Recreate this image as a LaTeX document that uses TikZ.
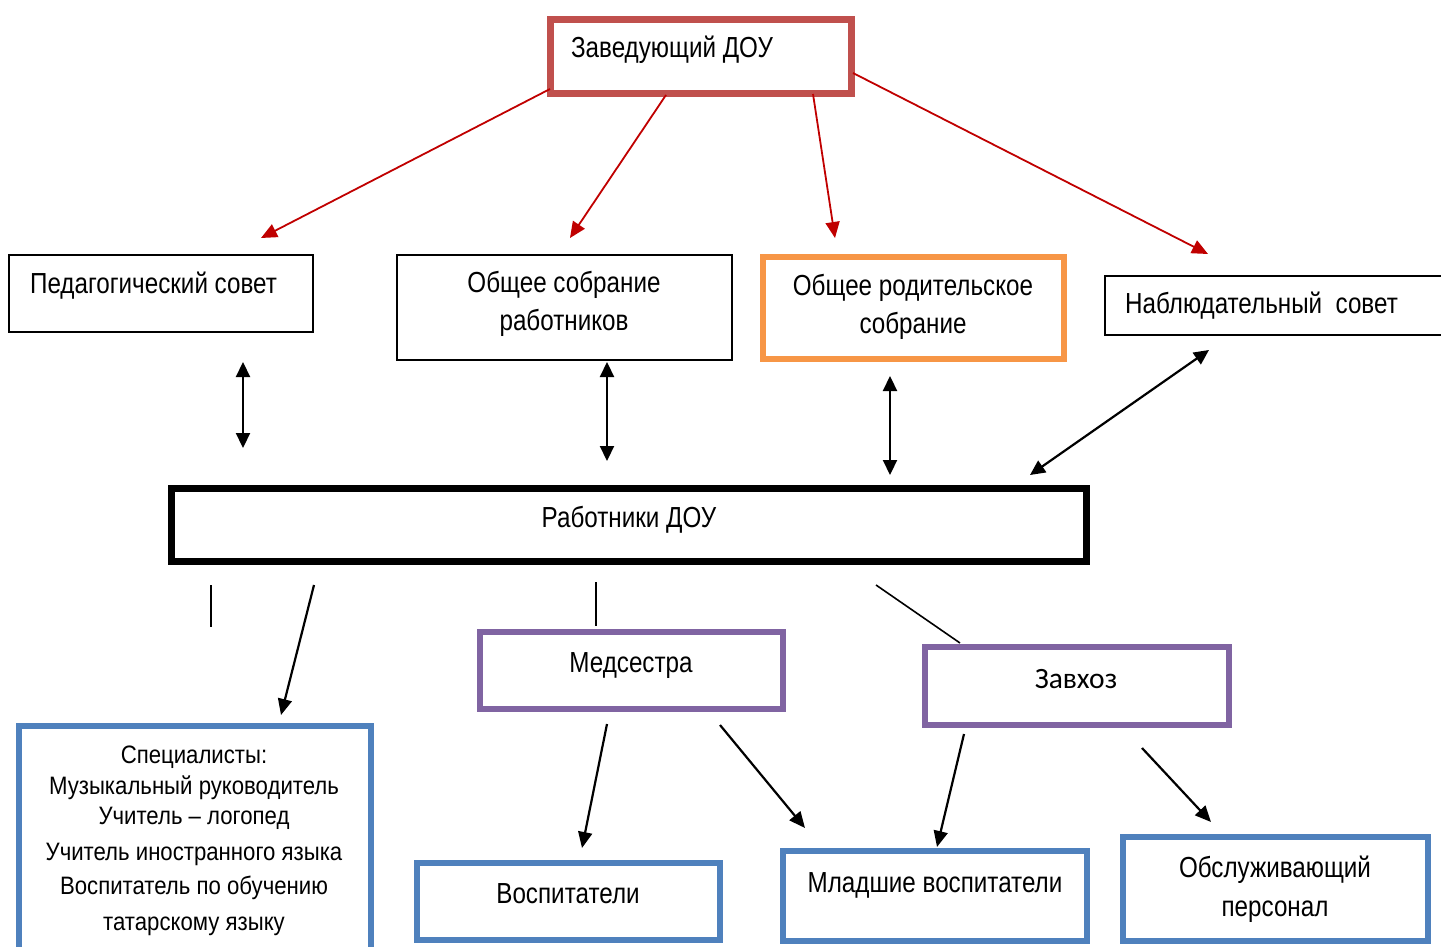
\documentclass[tikz,border=0pt]{standalone}
\usepackage{fontspec}
\setmainfont{Liberation Sans}[FakeStretch=0.835]
\newfontfamily\specfont{Liberation Sans}[FakeStretch=0.88]
\newfontfamily\calib{Carlito}
\usetikzlibrary{arrows.meta}
\definecolor{zavred}{HTML}{C0504D}
\definecolor{arrred}{HTML}{C00000}
\definecolor{orng}{HTML}{F79646}
\definecolor{purp}{HTML}{8064A2}
\definecolor{blu}{HTML}{4F81BD}
\tikzset{
  box/.style={draw, rectangle, inner sep=0pt},
  thinbox/.style={box, draw=black, line width=2pt},
  thickbox/.style={box, line width=6.5pt},
  colbox/.style={box, line width=5.5pt},
  txt/.style={inner sep=0pt, anchor=base, font=\fontsize{29}{34}\selectfont},
  spectxt/.style={txt, font=\specfont\fontsize{25.2}{30}\selectfont},
  redarr/.style={draw=arrred, line width=1.8pt, -{Triangle[length=16pt,width=14pt]}, arrred},
  blkarr/.style={draw=black, line width=2.2pt, -{Triangle[length=16pt,width=14pt]}},
  dblarr/.style={draw=black, line width=2.2pt, {Triangle[length=15pt,width=14pt]}-{Triangle[length=15pt,width=14pt]}},
  plainln/.style={draw=black, line width=1.6pt}
}
\begin{document}
\begin{tikzpicture}[x=1pt,y=-1pt]
\useasboundingbox (0,0) rectangle (1441,947);
% boxes
\node[thickbox, draw=zavred, minimum width=301pt, minimum height=74pt] (zav) at (701,56.5) {};
\node[thinbox, minimum width=304pt, minimum height=77pt] (ped) at (161,293.5) {};
\node[thinbox, minimum width=335pt, minimum height=105pt] (obs) at (564.5,307.5) {};
\node[colbox, draw=orng, minimum width=301pt, minimum height=102pt] (rod) at (913.5,308) {};
\node[thinbox, minimum width=355pt, minimum height=59pt] (nab) at (1282.5,305.5) {};
\node[thickbox, draw=black, minimum width=915pt, minimum height=73pt] (rab) at (629,525) {};
\node[colbox, draw=purp, minimum width=303pt, minimum height=77pt] (med) at (631.5,670.5) {};
\node[colbox, draw=purp, minimum width=304pt, minimum height=78pt] (zvh) at (1077,686) {};
\node[colbox, draw=blu, minimum width=352pt, minimum height=234pt] (spec) at (195,843) {};
\node[colbox, draw=blu, minimum width=303pt, minimum height=77pt] (vos) at (568.5,901.5) {};
\node[colbox, draw=blu, minimum width=304pt, minimum height=90pt] (mlad) at (935,896) {};
\node[colbox, draw=blu, minimum width=305pt, minimum height=104pt] (obsl) at (1275.5,889) {};
% texts
\node[txt] (tzav) at (672,58) {Заведующий ДОУ};
\node[txt] (tped) at (153.5,293) {Педагогический совет};
\node[txt] (tobs1) at (564,292) {Общее собрание};
\node[txt] (tobs2) at (564,330) {работников};
\node[txt] (trod1) at (913,295) {Общее родительское};
\node[txt] (trod2) at (913,333) {собрание};
\node[txt] (tnab) at (1261.5,313) {Наблюдательный\ \ совет};
\node[txt] (trab) at (629,527) {Работники ДОУ};
\node[txt] (tmed) at (631,672) {Медсестра};
\node[txt, font=\calib\fontsize{29.5}{34}\selectfont] (tzvh) at (1076,688) {Завхоз};
\node[spectxt] (ts1) at (194,763) {Специалисты:};
\node[spectxt] (ts2) at (194,794) {Музыкальный руководитель};
\node[spectxt] (ts3) at (194,824) {Учитель – логопед};
\node[spectxt] (ts4) at (194,860) {Учитель иностранного языка};
\node[spectxt] (ts5) at (194,894) {Воспитатель по обучению};
\node[spectxt] (ts6) at (194,930) {татарскому языку};
\node[txt] (tvos) at (568,903) {Воспитатели};
\node[txt] (tmlad) at (935,892) {Младшие воспитатели};
\node[txt] (tobsl1) at (1275,877) {Обслуживающий};
\node[txt] (tobsl2) at (1275,916) {персонал};
% connector end points
\coordinate (a1s) at (550,89);   \coordinate (a1e) at (261,238);
\coordinate (a2s) at (666,95);   \coordinate (a2e) at (570,238);
\coordinate (a3s) at (813,94);   \coordinate (a3e) at (835,238);
\coordinate (a4s) at (853,73);   \coordinate (a4e) at (1208,254);
\coordinate (d1s) at (243,362);  \coordinate (d1e) at (243,448);
\coordinate (d2s) at (607,362);  \coordinate (d2e) at (607,461);
\coordinate (d3s) at (890,376);  \coordinate (d3e) at (890,475);
\coordinate (d4s) at (1209,350); \coordinate (d4e) at (1030,475);
\coordinate (l1s) at (211,585);  \coordinate (l1e) at (211,627);
\coordinate (l2s) at (596,582);  \coordinate (l2e) at (596,626);
\coordinate (l3s) at (876,585);  \coordinate (l3e) at (960,643);
\coordinate (b1s) at (314,585);  \coordinate (b1e) at (281,715);
\coordinate (b2s) at (607,724);  \coordinate (b2e) at (582,848);
\coordinate (b3s) at (720,725);  \coordinate (b3e) at (805,828);
\coordinate (b4s) at (964,734);  \coordinate (b4e) at (937,847);
\coordinate (b5s) at (1142,748); \coordinate (b5e) at (1211,822);
% connectors
\draw[redarr] (a1s) -- (a1e);
\draw[redarr] (a2s) -- (a2e);
\draw[redarr] (a3s) -- (a3e);
\draw[redarr] (a4s) -- (a4e);
\draw[dblarr] (d1s) -- (d1e);
\draw[dblarr] (d2s) -- (d2e);
\draw[dblarr] (d3s) -- (d3e);
\draw[dblarr] (d4s) -- (d4e);
\draw[plainln] (l1s) -- (l1e);
\draw[plainln] (l2s) -- (l2e);
\draw[plainln] (l3s) -- (l3e);
\draw[blkarr] (b1s) -- (b1e);
\draw[blkarr] (b2s) -- (b2e);
\draw[blkarr] (b3s) -- (b3e);
\draw[blkarr] (b4s) -- (b4e);
\draw[blkarr] (b5s) -- (b5e);
\end{tikzpicture}
\end{document}
